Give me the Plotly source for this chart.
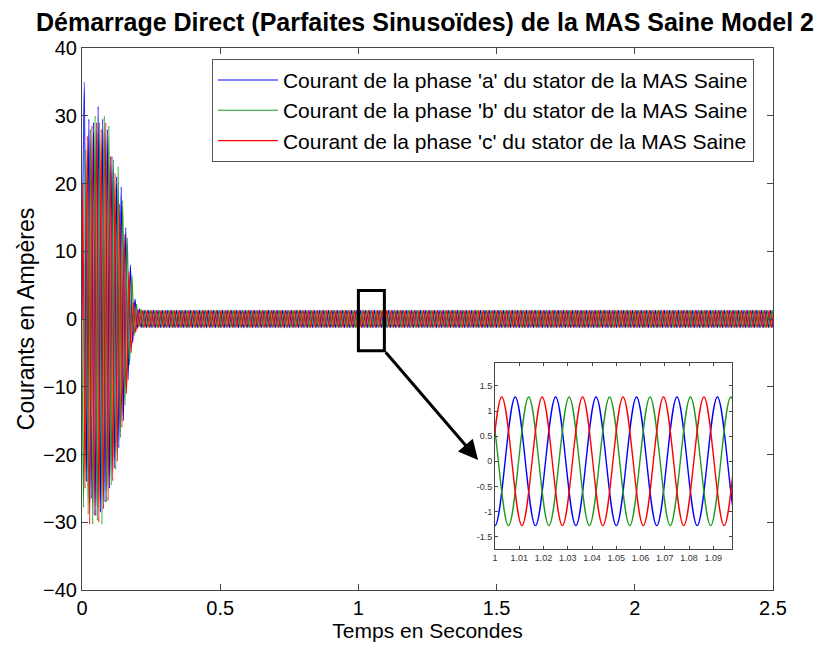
import numpy as np
import plotly.graph_objects as go

# Stator currents of the healthy induction machine (MAS) during a direct start.
# Each phase is described by its successive current extrema (A), one every
# half period of the 60 Hz supply, then linked by a smooth spline.
F_SUPPLY = 60.0
T_END = 2.5

# time of the first extremum of each phase (s)
offset_a = 1 / 120
offset_b = 1 / 180
offset_c = 1 / 360

# start-up transient extrema (A), in time order
a_transient = [35.0, -24.0, 29.5, -26.5, 29.0, -29.0, 31.4, -28.5, 29.5, -27.0,
               28.0, -25.0, 24.0, -22.0, 21.0, -19.0, 19.5, -15.0, 13.5, -9.0,
               8.0, -3.5, 3.0, -1.4, 1.5, -1.3]
b_transient = [-27.8, 25.0, -28.8, 28.0, -30.3, 30.0, -29.7, 29.0, -30.3, 30.0,
               -27.0, 28.5, -24.5, 23.5, -22.2, 22.5, -17.5, 17.5, -12.7, 12.0,
               -6.8, 6.5, -2.4, 2.2, -1.2, 1.4]
c_transient = [20.0, -25.0, 27.0, -30.3, 28.5, -29.0, 29.0, -30.0, 28.0, -28.0,
               29.0, -26.8, 24.0, -23.9, 21.5, -21.0, 17.0, -16.0, 12.5, -11.0,
               7.0, -5.0, 2.5, -2.0, 1.4, -1.2]

# steady-state peak current (A)
steady_peak = 1.28

legend_names = [
    "Courant de la phase 'a' du stator de la MAS Saine",
    "Courant de la phase 'b' du stator de la MAS Saine",
    "Courant de la phase 'c' du stator de la MAS Saine",
]
colors = ["#0000FF", "#1E9A1E", "#FF0000"]

x_ticks = [0, 0.5, 1, 1.5, 2, 2.5]
y_ticks = [-40, -30, -20, -10, 0, 10, 20, 30, 40]
inset_x_ticks = [1, 1.01, 1.02, 1.03, 1.04, 1.05, 1.06, 1.07, 1.08, 1.09]
inset_y_ticks = [-1.5, -1, -0.5, 0, 0.5, 1, 1.5]

# zoom window shown in the inset
zoom_box = dict(x0=1.0, x1=1.094, y0=-4.7, y1=4.2)


def phase_points(offset, transient):
    half = 1 / (2 * F_SUPPLY)
    n = int(np.ceil((T_END + 0.02 - offset) / half)) + 1
    times = offset + half * np.arange(n)
    sign = -np.sign(transient[-1])
    steady = []
    for _ in range(n - len(transient)):
        steady.append(sign * steady_peak)
        sign = -sign
    values = list(transient) + steady
    return np.concatenate([[0.0], times]), np.array([0.0] + values)


phases = [
    phase_points(offset_a, a_transient),
    phase_points(offset_b, b_transient),
    phase_points(offset_c, c_transient),
]

fig = go.Figure()
for (t, i), name, col in zip(phases, legend_names, colors):
    fig.add_trace(go.Scatter(
        x=t, y=i, mode="lines", name=name,
        line=dict(color=col, width=1.1, shape="spline"),
        xaxis="x", yaxis="y",
    ))
for (t, i), name, col in zip(phases, legend_names, colors):
    m = (t > 0.97) & (t < 1.13)
    fig.add_trace(go.Scatter(
        x=t[m], y=i[m], mode="lines", name=name, showlegend=False,
        line=dict(color=col, width=1.4, shape="spline"),
        xaxis="x2", yaxis="y2",
    ))

FONT = "Arial, Liberation Sans, sans-serif"
axis_font = dict(family=FONT, size=20, color="#000")
line_col = "#454545"

fig.update_layout(
    width=822, height=650,
    margin=dict(l=82, r=49, t=48, b=57),
    paper_bgcolor="white", plot_bgcolor="white",
    font=dict(family=FONT, color="#000"),
    title=dict(
        text="<b>Démarrage Direct (Parfaites Sinusoïdes) de la MAS Saine Model 2</b>",
        font=dict(family=FONT, size=25, color="#000"),
        x=0.517, xref="container", xanchor="center",
        y=1 - 22 / 650, yref="container", yanchor="middle",
    ),
    xaxis=dict(
        domain=[0, 1], range=[0, 2.5], tickvals=x_ticks,
        ticktext=[f"{v:g}" for v in x_ticks],
        ticks="inside", ticklen=6, tickcolor=line_col, mirror="ticks",
        showline=True, linecolor=line_col, linewidth=1,
        showgrid=False, zeroline=False, tickfont=axis_font,
        title=dict(text="Temps en Secondes", font=dict(size=21), standoff=4),
    ),
    yaxis=dict(
        domain=[0, 1], range=[-40, 40], tickvals=y_ticks,
        ticks="inside", ticklen=6, tickcolor=line_col, mirror="ticks",
        showline=True, linecolor=line_col, linewidth=1,
        showgrid=False, zeroline=False, tickfont=axis_font,
        title=dict(text="Courants en Ampères", font=dict(size=23), standoff=2),
    ),
    xaxis2=dict(
        domain=[0.5977, 0.9407], anchor="y2", range=[1, 1.0977],
        tickvals=inset_x_ticks, ticktext=[f"{v:g}" for v in inset_x_ticks],
        ticks="inside", ticklen=3, tickcolor=line_col, mirror="ticks",
        showline=True, linecolor=line_col, linewidth=1,
        showgrid=False, zeroline=False,
        tickfont=dict(size=9, color="#333"),
    ),
    yaxis2=dict(
        domain=[0.0752, 0.4183], anchor="x2", range=[-1.75, 1.95],
        tickvals=inset_y_ticks, ticktext=[f"{v:g}" for v in inset_y_ticks],
        ticks="inside", ticklen=3, tickcolor=line_col, mirror="ticks",
        showline=True, linecolor=line_col, linewidth=1,
        showgrid=False, zeroline=False,
        tickfont=dict(size=9, color="#333"),
    ),
    legend=dict(
        x=0.188, y=0.98, xanchor="left", yanchor="top",
        bgcolor="white", bordercolor="#555", borderwidth=1,
        font=dict(size=21, color="#000"), itemwidth=60,
    ),
    showlegend=True,
)

fig.add_shape(type="rect", xref="x", yref="y", **zoom_box,
              line=dict(color="black", width=3), layer="above")
fig.add_annotation(
    x=1.433, y=-20.8, ax=zoom_box["x1"], ay=zoom_box["y0"],
    xref="x", yref="y", axref="x", ayref="y",
    text="", showarrow=True, arrowhead=2, arrowsize=1.3,
    arrowwidth=3, arrowcolor="black",
)

fig.write_html("out.html")
